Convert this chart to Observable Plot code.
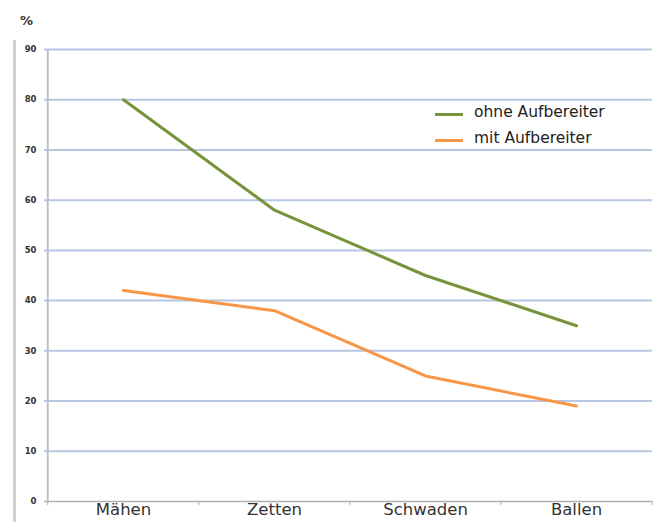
<!DOCTYPE html>
<html>
<head>
<meta charset="utf-8">
<script src="https://cdn.jsdelivr.net/npm/d3@7"></script>
<script src="https://cdn.jsdelivr.net/npm/@observablehq/plot@0.6"></script>
<style>
  body { margin: 0; background: #fff; font-family: "DejaVu Sans", sans-serif; }
  #wrap { position: relative; width: 659px; height: 522px; overflow: hidden; }
  #deco { position: absolute; left: 13px; top: 40px; width: 0; height: 490px; border-left: 3px solid #d0d0d0; }
  #legend { position: absolute; left: 435px; top: 99px; font-size: 15.5px; color: #222; line-height: 26px; white-space: nowrap; }
  #legend .sw { display: inline-block; width: 28px; height: 3px; vertical-align: middle; margin-right: 11px; position: relative; top: 2px; }
</style>
</head>
<body>
<div id="wrap">
  <div id="chart"></div>
  <div id="deco"></div>
  <div id="legend"></div>
</div>
<script>
const categories = ["Mähen", "Zetten", "Schwaden", "Ballen"];
const ohneAufbereiter = [80, 58, 45, 35];
const mitAufbereiter = [42, 38, 25, 19];
const seriesNames = ["ohne Aufbereiter", "mit Aufbereiter"];
const seriesColors = ["#77933C", "#F79646"];
const yTicks = [0, 10, 20, 30, 40, 50, 60, 70, 80, 90];

const data = [];
categories.forEach((c, i) => {
  data.push({cat: c, value: ohneAufbereiter[i], series: seriesNames[0]});
  data.push({cat: c, value: mitAufbereiter[i], series: seriesNames[1]});
});

const W = 659, H = 522, mL = 46, mR = 7, mT = 49, mB = 21;
const step = (W - mL - mR) / categories.length;

const chart = Plot.plot({
  width: W,
  height: H,
  marginLeft: mL,
  marginRight: mR,
  marginTop: mT,
  marginBottom: mB,
  style: {fontFamily: "DejaVu Sans, sans-serif", background: "transparent", overflow: "visible"},
  x: {type: "point", domain: categories, padding: 0.5},
  y: {domain: [0, 90]},
  color: {domain: seriesNames, range: seriesColors},
  marks: [
    Plot.ruleY(yTicks.filter(t => t > 0), {stroke: "#b8c5e3", strokeWidth: 2, insetLeft: -2}),
    Plot.ruleY([0], {stroke: "#b0b0b0", strokeWidth: 1.5, insetLeft: -2}),
    Plot.ruleX([categories[0]], {dx: -step / 2, y1: 0, y2: 90, stroke: "#c0c0c0", strokeWidth: 2}),
    Plot.ruleX(categories, {dx: -step / 2, y1: 0, y2: -0.8, stroke: "#b0b0b0"}),
    Plot.ruleX([categories[categories.length - 1]], {dx: step / 2, y1: 0, y2: -0.8, stroke: "#b0b0b0"}),
    Plot.axisY({ticks: yTicks, tickSize: 0, tickPadding: 10, fontSize: 8.5, fontWeight: "bold", fill: "#333", label: null}),
    Plot.axisX({tickSize: 0, tickPadding: 2, fontSize: 16.5, fill: "#333", label: null}),
    Plot.line(data, {x: "cat", y: "value", z: "series", stroke: "series", strokeWidth: 3}),
    Plot.text(["%"], {frameAnchor: "top-left", textAnchor: "middle", lineAnchor: "middle", dx: -20, dy: -29, fontSize: 13, fontWeight: "bold", fill: "#333"})
  ]
});
document.getElementById("chart").appendChild(chart);

const legend = document.getElementById("legend");
seriesNames.forEach((n, i) => {
  const row = document.createElement("div");
  const sw = document.createElement("span");
  sw.className = "sw";
  sw.style.background = seriesColors[i];
  row.appendChild(sw);
  row.appendChild(document.createTextNode(n));
  legend.appendChild(row);
});
</script>
</body>
</html>
